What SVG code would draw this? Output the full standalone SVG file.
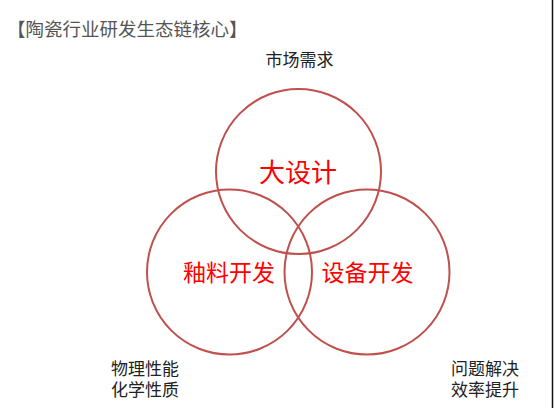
<svg xmlns="http://www.w3.org/2000/svg" width="554" height="408" viewBox="0 0 554 408">
<style>
text{font-family:"Noto Sans CJK SC","Noto Sans",sans-serif;}
.c{fill:none;stroke:#C0504D;stroke-width:2;}
.lab{fill:#FF0000;text-anchor:middle;}
.note{fill:#222222;font-size:17px;}
.tight{font-family:"Liberation Sans","Noto Sans CJK SC",sans-serif;}
</style>
<rect width="554" height="408" fill="#FFFFFF"/>
<line x1="552.5" y1="0" x2="552.5" y2="408" stroke="#111111" stroke-width="1.5"/>
<text x="7" y="36" font-size="18.5" fill="#555555">【陶瓷行业研发生态链核心】</text>
<text class="note" x="299.5" y="65.5" text-anchor="middle">市场需求</text>
<g id="connectors"></g>
<g id="node-design">
<circle class="c" cx="298.5" cy="171.5" r="82.5"/>
<text class="lab" x="298" y="182" font-size="26">大设计</text>
</g>
<g id="node-glaze">
<circle class="c" cx="229.5" cy="272" r="82.5"/>
<text class="lab" x="229" y="281" font-size="23">釉料开发</text>
</g>
<g id="node-equipment">
<circle class="c" cx="367" cy="272" r="82.5"/>
<text class="lab" x="367.5" y="281" font-size="23">设备开发</text>
</g>
<g id="note-left">
<text class="note tight" x="111" y="374.5">物理性能</text>
<text class="note tight" x="111" y="395.5">化学性质</text>
</g>
<g id="note-right">
<text class="note tight" x="451" y="374.5">问题解决</text>
<text class="note tight" x="451" y="395.5">效率提升</text>
</g>
</svg>
